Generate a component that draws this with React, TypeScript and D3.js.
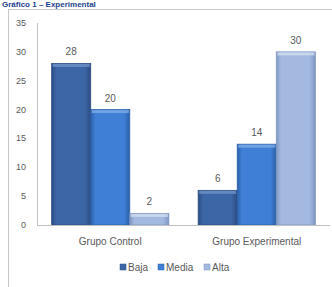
import { useEffect, useRef } from "react";
import * as d3 from "d3";

const groups = ["Grupo Control", "Grupo Experimental"];
const levels = ["Baja", "Media", "Alta"];
const baja = [28, 6];
const media = [20, 14];
const alta = [2, 30];
const yTicks = [0, 5, 10, 15, 20, 25, 30, 35];

const W = 332;
const H = 287;

export default function App() {
  const svgRef = useRef<SVGSVGElement>(null);

  useEffect(() => {
    if (!svgRef.current) return;
    const svg = d3.select(svgRef.current);
    svg.selectAll("*").remove();

    const series = [baja, media, alta];
    const colors = [
      { mid: "#3d66a6", edge: "#2b4c82", top: "#6f92c8" },
      { mid: "#3f80d6", edge: "#2c5fa8", top: "#7eaae6" },
      { mid: "#a3b9e0", edge: "#7f97c2", top: "#cfdcf1" },
    ];

    const PL = 37, PR = 330, PT = 23, PB = 225;
    const x0 = d3.scaleBand().domain(groups).range([PL, PR]).paddingInner(0.2).paddingOuter(0.1);
    const x1 = d3.scaleBand().domain(levels).range([0, x0.bandwidth()]).padding(0);
    const y = d3.scaleLinear().domain([0, 35]).range([PB, PT]);
    const font = "'Liberation Sans', Arial, sans-serif";

    // ── defs: gradientes de las barras ─────────────────────
    const defs = svg.append("defs");
    colors.forEach((c, i) => {
      const gr = defs.append("linearGradient")
        .attr("id", `bar-${i}`)
        .attr("x1", "0").attr("x2", "1").attr("y1", "0").attr("y2", "0");
      gr.append("stop").attr("offset", "0%").attr("stop-color", c.edge);
      gr.append("stop").attr("offset", "12%").attr("stop-color", c.mid);
      gr.append("stop").attr("offset", "85%").attr("stop-color", c.mid);
      gr.append("stop").attr("offset", "100%").attr("stop-color", c.edge);
    });

    svg.append("rect").attr("width", W).attr("height", H).attr("fill", "#fff");

    // título (arriba, muy pequeño)
    svg.append("text")
      .attr("x", 2).attr("y", 7)
      .attr("fill", "#1f3f8f")
      .attr("font-size", "8px")
      .attr("font-weight", "700")
      .style("font-family", font)
      .text("Gráfico 1 – Experimental");

    // marco del gráfico
    svg.append("rect")
      .attr("x", 8.5).attr("y", 9.5)
      .attr("width", W).attr("height", H)
      .attr("fill", "#fff")
      .attr("stroke", "#c8c8c8");

    // eje Y
    svg.append("line")
      .attr("x1", PL + 0.5).attr("x2", PL + 0.5)
      .attr("y1", PT).attr("y2", PB)
      .attr("stroke", "#c0c0c0");
    svg.selectAll(".ytick").data(yTicks).enter().append("text")
      .attr("x", 26).attr("y", d => y(d) + 3)
      .attr("text-anchor", "end")
      .attr("fill", "#595959")
      .attr("font-size", "9px")
      .style("font-family", font)
      .text(d => d);

    // barras
    groups.forEach((g, gi) => {
      levels.forEach((l, li) => {
        const v = series[li][gi];
        const bx = (x0(g) ?? 0) + (x1(l) ?? 0);
        const bw = x1.bandwidth();
        const by = y(v);
        const bh = y(0) - by;
        svg.append("rect")
          .attr("x", bx).attr("y", by)
          .attr("width", bw).attr("height", bh)
          .attr("fill", `url(#bar-${li})`)
          .attr("stroke", colors[li].edge)
          .attr("stroke-width", 0.8);
        svg.append("rect")
          .attr("x", bx + 1).attr("y", by + 0.5)
          .attr("width", bw - 2).attr("height", Math.min(3, bh - 1))
          .attr("fill", colors[li].top)
          .attr("opacity", 0.8);
        svg.append("text")
          .attr("x", bx + bw / 2).attr("y", by - 8)
          .attr("text-anchor", "middle")
          .attr("fill", "#595959")
          .attr("font-size", "10px")
          .style("font-family", font)
          .text(v);
      });
    });

    // eje X
    svg.append("line")
      .attr("x1", PL).attr("x2", PR)
      .attr("y1", PB + 0.5).attr("y2", PB + 0.5)
      .attr("stroke", "#c0c0c0");
    svg.selectAll(".xlab").data(groups).enter().append("text")
      .attr("x", d => (x0(d) ?? 0) + x0.bandwidth() / 2)
      .attr("y", 245)
      .attr("text-anchor", "middle")
      .attr("fill", "#595959")
      .attr("font-size", "10px")
      .style("font-family", font)
      .text(d => d);

    // leyenda
    const legX = [120, 158, 204];
    levels.forEach((l, i) => {
      svg.append("rect")
        .attr("x", legX[i]).attr("y", 264)
        .attr("width", 6).attr("height", 6)
        .attr("fill", colors[i].mid)
        .attr("stroke", colors[i].edge)
        .attr("stroke-width", 0.5);
      svg.append("text")
        .attr("x", legX[i] + 8).attr("y", 271)
        .attr("fill", "#595959")
        .attr("font-size", "10px")
        .style("font-family", font)
        .text(l);
    });
  }, []);

  return (
    <div style={{ position: "fixed", left: 0, top: 0 }}>
      <svg ref={svgRef} width={W} height={H} style={{ display: "block" }} />
    </div>
  );
}
